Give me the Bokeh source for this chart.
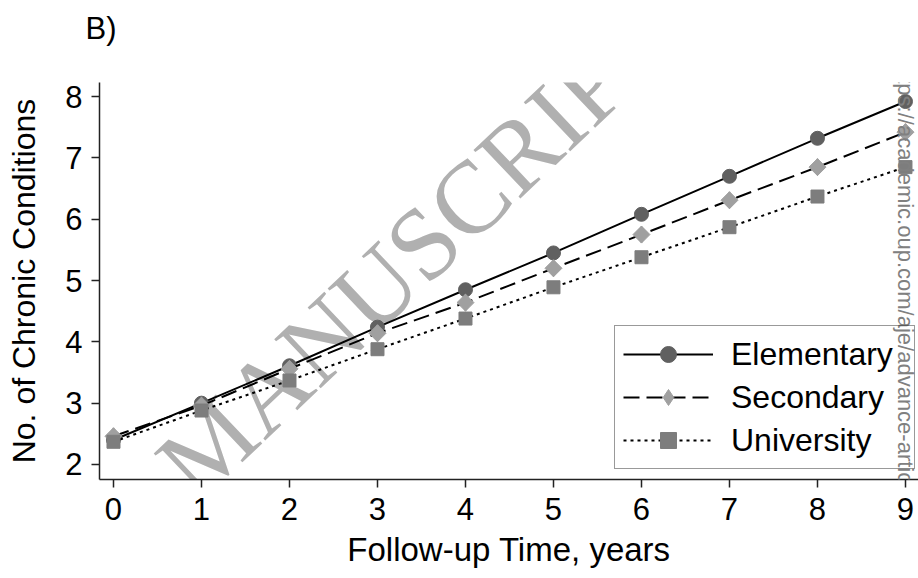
import numpy as np
from bokeh.plotting import figure
from bokeh.models import Range1d, FixedTicker, Legend, LegendItem, Label
from bokeh.core.properties import value
from bokeh.embed import file_html
from bokeh.resources import INLINE

years = [0, 1, 2, 3, 4, 5, 6, 7, 8, 9]
elementary = [2.40, 3.00, 3.61, 4.24, 4.85, 5.45, 6.08, 6.70, 7.32, 7.92]
secondary = [2.46, 2.96, 3.56, 4.14, 4.64, 5.20, 5.75, 6.31, 6.85, 7.42]
university = [2.37, 2.88, 3.37, 3.88, 4.38, 4.89, 5.38, 5.87, 6.37, 6.85]
series_names = ["Elementary", "Secondary", "University"]
x_ticks = [0, 1, 2, 3, 4, 5, 6, 7, 8, 9]
y_ticks = [2, 3, 4, 5, 6, 7, 8]

FONT = "Liberation Sans"

p = figure(width=918, height=578, output_backend="svg", toolbar_location=None,
           x_range=Range1d(-0.159, 9.148), y_range=Range1d(1.755, 8.23),
           min_border_left=99, min_border_right=0, min_border_bottom=99,
           min_border_top=82, background_fill_color="white",
           border_fill_color="white")
p.outline_line_color = None
p.xgrid.visible = False
p.ygrid.visible = False

p.title.text = "B)\n"
p.title.text_font = FONT
p.title.text_font_size = "31px"
p.title.text_font_style = "normal"
p.title.text_color = "black"
p.title.offset = -14
p.title.vertical_align = "top"
p.title.standoff = 0

# watermark (light grey serif text)
wm = Label(x=1.125, y=2.359,
           text="ACCEPTED MANUSCRIPT", angle=43.5, angle_units="deg",
           text_font="Liberation Serif", text_font_size="103px",
           text_align="center", text_baseline="middle",
           text_color="#b0b0b0", level="underlay")
p.add_layout(wm)

lw = 2
r1 = p.line(years, elementary, line_color="black", line_width=lw)
s1 = p.scatter(years, elementary, marker="circle", size=14, fill_color="#606060", line_color="#606060")
r2 = p.line(years, secondary, line_color="black", line_width=lw, line_dash="16 7")
s2_key = p.scatter(years, secondary, marker="diamond", size=17, fill_color="#a0a0a0", line_color="#a0a0a0")
s2 = p.scatter(years, secondary, marker="square", angle=np.pi / 4, size=12,
               fill_color="#a0a0a0", line_color="#a0a0a0")
r3 = p.line(years, university, line_color="black", line_width=lw, line_dash="3 4")
s3 = p.scatter(years, university, marker="square", size=13, fill_color="#7d7d7d", line_color="#7d7d7d")

for ax in (p.xaxis[0], p.yaxis[0]):
    ax.axis_line_color = "#222222"
    ax.axis_line_width = 1.5
    ax.major_tick_line_color = "#222222"
    ax.major_tick_line_width = 1.5
    ax.major_tick_out = 8
    ax.major_tick_in = 0
    ax.minor_tick_line_color = None
    ax.major_label_text_font = FONT
    ax.major_label_text_font_size = "31px"
    ax.major_label_text_color = "black"
    ax.axis_label_text_font = FONT
    ax.axis_label_text_font_style = "normal"
    ax.axis_label_text_color = "black"

p.xaxis.ticker = FixedTicker(ticks=x_ticks)
p.yaxis.ticker = FixedTicker(ticks=y_ticks)
p.xaxis.axis_label = "Follow-up Time, years"
p.yaxis.axis_label = "No. of Chronic Conditions"
p.xaxis.axis_label_text_font_size = "33px"
p.yaxis.axis_label_text_font_size = "32px"
p.xaxis.major_label_standoff = 10
p.xaxis.axis_label_standoff = 8
p.yaxis.major_label_standoff = 9
p.yaxis.axis_label_standoff = 20

legend = Legend(items=[
    LegendItem(label=series_names[0], renderers=[r1, s1]),
    LegendItem(label=series_names[1], renderers=[r2, s2_key]),
    LegendItem(label=series_names[2], renderers=[r3, s3]),
], location=(515, 10), orientation="vertical")
legend.label_text_font = FONT
legend.label_text_font_size = "32px"
legend.label_text_color = "black"
legend.glyph_width = 90
legend.glyph_height = 40
legend.label_width = 175
legend.spacing = 3
legend.padding = 8
legend.margin = 0
legend.label_standoff = 18
legend.border_line_color = "#333333"
legend.border_line_width = 1.5
legend.background_fill_alpha = 0.0
p.add_layout(legend, "center")

# side note (shows through the legend, as in the source page)
side = Label(x=9.0, y=1.755 + (479 + 120) / 61.3,
             text="Downloaded from https://academic.oup.com/aje/advance-article-abstract/doi",
             angle=-90, angle_units="deg", text_font=FONT, text_font_size="22px",
             text_align="left", text_baseline="middle", text_color="#808080",
             level="overlay")
p.add_layout(side)

open("out.html", "w").write(file_html(p, INLINE))
